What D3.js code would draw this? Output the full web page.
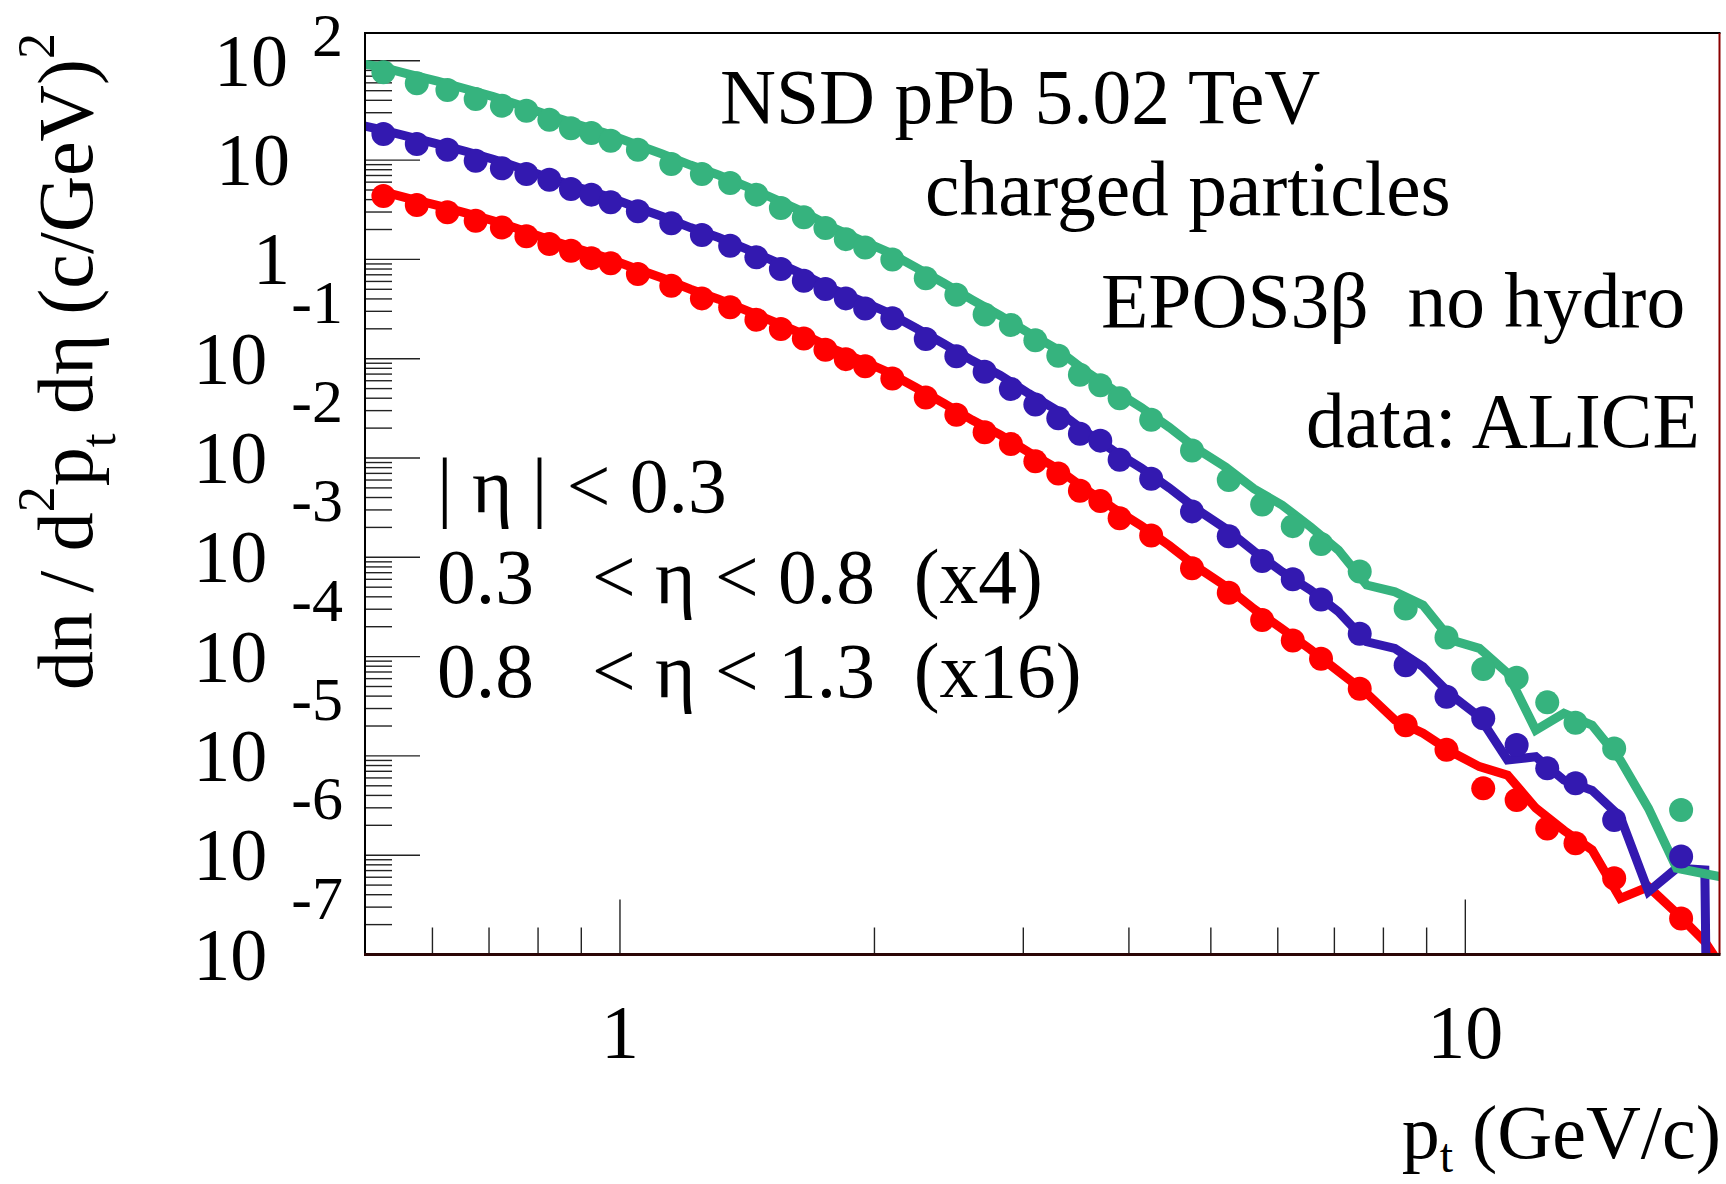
<!DOCTYPE html>
<html><head><meta charset="utf-8">
<script src="https://cdn.jsdelivr.net/npm/d3@7"></script>
<style>
html,body{margin:0;padding:0;background:#fff;}
svg{display:block;}
text{font-family:"Liberation Serif","Times New Roman",serif;fill:#000;white-space:pre;}
</style></head><body>
<svg id="chart" width="1726" height="1184"></svg>
<script>
// ---------- DATA ----------
// ALICE data: pt bin centres (GeV/c)
const ptData = [0.525,0.575,0.625,0.675,0.725,0.775,0.825,0.875,0.925,0.975,
  1.05,1.15,1.25,1.35,1.45,1.55,1.65,1.75,1.85,1.95,
  2.1,2.3,2.5,2.7,2.9,3.1,3.3,3.5,3.7,3.9,
  4.25,4.75,5.25,5.75,6.25,6.75,7.5,8.5,9.5,10.5,11.5,12.5,13.5,15,18];
// |eta| < 0.3
const dataEta03 = [4.35,3.53,2.98,2.45,2.10,1.71,1.43,1.22,1.03,0.914,
  0.713,0.543,0.405,0.330,0.247,0.199,0.160,0.123,0.099,0.084,
  0.0631,0.0406,0.0272,0.0182,0.0138,0.00925,0.00698,0.00469,0.00368,0.00247,
  0.00166,7.74e-4,4.4e-4,2.33e-4,1.45e-4,9.5e-5,4.75e-5,2.04e-5,1.15e-5,4.71e-6,3.59e-6,1.86e-6,1.32e-6,5.85e-7,2.31e-7];
// 0.3 < eta < 0.8 (x4)
const dataEta08x4 = [18.3,14.5,12.7,9.87,8.26,7.24,6.35,5.12,4.49,3.76,
  3.05,2.31,1.76,1.37,1.05,0.80,0.61,0.503,0.405,0.32,
  0.256,0.158,0.106,0.074,0.0496,0.0346,0.0251,0.01754,0.01496,0.00962,
  0.00619,0.0029,0.00163,9.2e-4,6.0e-4,3.75e-4,1.7e-4,8.2e-5,3.94e-5,2.39e-5,1.29e-5,7.5e-6,5.3e-6,2.26e-6,9.7e-7];
// 0.8 < eta < 1.3 (x16)
const dataEta13x16 = [76.6,59.3,50.8,41.2,35.3,31.4,25.5,20.9,18.7,15.7,
  12.7,9.14,7.24,5.88,4.49,3.29,2.65,2.07,1.60,1.32,
  1.00,0.645,0.44,0.279,0.219,0.153,0.107,0.0689,0.0541,0.040,
  0.0243,0.0119,0.00601,0.0034,0.00206,0.00136,7.2e-4,3.05e-4,1.56e-4,7.48e-5,6.12e-5,3.46e-5,2.16e-5,1.19e-5,2.85e-6];

// EPOS3 (no hydro) model: pt bin centres
const ptModel = [0.4818,0.5200,0.5623,0.6081,0.6579,0.7079,0.7647,0.8254,0.8913,0.9624,
  1.0391,1.1220,1.2115,1.3080,1.4125,1.5251,1.6468,1.7783,1.9201,2.0733,
  2.2387,2.4173,2.6102,2.8184,3.0433,3.2860,3.5481,3.8312,4.1369,4.4668,
  4.8232,5.2080,5.6234,6.0720,6.5563,7.0795,7.6442,8.2540,8.9125,9.6235,
  10.391,11.220,12.115,13.080,14.125,15.251,16.468,17.783,19.201,20.733];
const modelEta03 = [null,4.90,4.12,3.51,2.92,2.45,1.98,1.58,1.28,1.045,
  0.818,0.649,0.501,0.398,0.305,0.233,0.177,0.128,0.0977,0.0735,
  0.0513,0.0355,0.0241,0.0171,0.01148,0.00789,0.0049,0.00314,0.00208,0.00131,
  7.88e-4,5.1e-4,3.02e-4,1.9e-4,1.18e-4,7.1e-5,4.27e-5,2.3e-5,1.69e-5,1.1e-5,
  7.8e-6,6.4e-6,2.98e-6,1.78e-6,1.13e-6,3.68e-7,4.8e-7,2.6e-7,1.35e-7,5e-8];
const modelEta08x4 = [23.5,20.4,17.2,14.6,12.2,10.2,8.24,6.61,5.33,4.36,
  3.41,2.70,2.09,1.66,1.27,0.948,0.706,0.511,0.389,0.292,
  0.204,0.141,0.0959,0.0681,0.0447,0.0303,0.0186,0.0119,0.00792,0.00498,
  0.0030,0.00194,0.00115,7.15e-4,4.68e-4,2.83e-4,1.41e-4,1.21e-4,7.9e-5,4.1e-5,
  2.48e-5,9.1e-6,9.8e-6,5.7e-6,4.5e-6,2.44e-6,4.3e-7,7.4e-7,7.1e-7,1e-30];
const modelEta13x16 = [97,87.1,73.3,62.4,52.0,43.6,35.2,28.2,22.8,18.6,
  14.6,11.5,8.91,7.08,5.42,4.05,3.01,2.13,1.585,1.19,
  0.832,0.575,0.391,0.271,0.182,0.125,0.0759,0.0486,0.0323,0.0203,
  0.0122,0.00809,0.0049,0.00335,0.00203,0.00118,5.25e-4,4.49e-4,3.3e-4,1.47e-4,
  1.21e-4,6.8e-5,1.82e-5,2.68e-5,2.04e-5,9.1e-6,2.96e-6,7.4e-7,6.5e-7,5.75e-7];

const seriesColors = ["#ff0000", "#3319b0", "#36b37e"];
const yTickExps = [-7,-6,-5,-4,-3,-2,-1,0,1,2];
const xTickLabels = [1, 10];
const annotations = ["NSD pPb 5.02 TeV", "charged particles", "EPOS3\u03b2  no hydro", "data: ALICE"];
const legendLines = ["| \u03b7 | < 0.3", "0.3   < \u03b7 < 0.8  (x4)", "0.8   < \u03b7 < 1.3  (x16)"];

// ---------- LAYOUT ----------
const svg = d3.select("#chart");
const F = {left:365, top:33, right:1719.5, bottom:954.5};
const x = d3.scaleLog().domain([0.5, 20]).range([365.5, 1719.8]);
const y = d3.scaleLog().domain([1e-7, Math.pow(10, 2.28)]).range([954.5, 33]);

svg.append("rect").attr("width",1726).attr("height",1184).attr("fill","#fff");

svg.append("defs").append("clipPath").attr("id","frameClip")
  .append("rect").attr("x",F.left).attr("y",F.top).attr("width",F.right-F.left).attr("height",F.bottom-F.top);

// ---------- TICKS ----------
const yTicks = [];
for (let e = -7; e <= 2; e++) for (let m = 1; m <= 9; m++) {
  const v = m*Math.pow(10,e);
  if (v >= y.domain()[0] && v <= y.domain()[1]) yTicks.push({v, major: m===1});
}
svg.append("g").selectAll("line").data(yTicks).join("line")
  .attr("x1",F.left).attr("x2",d => F.left + (d.major?55:27))
  .attr("y1",d=>y(d.v)).attr("y2",d=>y(d.v))
  .attr("stroke","#222").attr("stroke-width",1.4);

const xTicks = [];
for (let e = -1; e <= 1; e++) for (let m = 1; m <= 9; m++) {
  const v = m*Math.pow(10,e);
  if (v > x.domain()[0] + 1e-9 && v < x.domain()[1] - 1e-9) xTicks.push({v, major: m===1});
}
svg.append("g").selectAll("line").data(xTicks).join("line")
  .attr("x1",d=>x(d.v)).attr("x2",d=>x(d.v))
  .attr("y1",F.bottom).attr("y2",d => F.bottom - (d.major?55:27))
  .attr("stroke","#222").attr("stroke-width",1.4);

// ---------- CURVES ----------
const series = [
  {data: dataEta03, model: modelEta03, color: seriesColors[0]},
  {data: dataEta08x4, model: modelEta08x4, color: seriesColors[1]},
  {data: dataEta13x16, model: modelEta13x16, color: seriesColors[2]}
];
const lineGen = d3.line().defined(d => d[1] != null).x(d => x(d[0])).y(d => y(d[1]));
const curves = svg.append("g").attr("clip-path","url(#frameClip)");
series.forEach(s => {
  curves.append("path")
    .attr("d", lineGen(ptModel.map((p,i) => [p, s.model[i]])))
    .attr("fill","none").attr("stroke",s.color).attr("stroke-width",9)
    .attr("stroke-linejoin","miter").attr("stroke-miterlimit",4);
});
series.forEach(s => {
  svg.append("g").selectAll("circle").data(ptData.map((p,i)=>[p,s.data[i]])).join("circle")
    .attr("cx",d=>x(d[0])).attr("cy",d=>y(d[1])).attr("r",12).attr("fill",s.color);
});

// ---------- FRAME ----------
svg.append("line").attr("x1",F.left).attr("x2",F.left).attr("y1",F.top).attr("y2",F.bottom+1.5).attr("stroke","#000").attr("stroke-width",2);
svg.append("line").attr("x1",F.left-1).attr("x2",F.right+1).attr("y1",F.top).attr("y2",F.top).attr("stroke","#000").attr("stroke-width",2);
svg.append("line").attr("x1",F.right).attr("x2",F.right).attr("y1",F.top).attr("y2",F.bottom).attr("stroke","#8b0000").attr("stroke-width",2);
svg.append("line").attr("x1",F.left-1).attr("x2",F.right+1).attr("y1",F.bottom).attr("y2",F.bottom).attr("stroke","#2a0505").attr("stroke-width",3);

// ---------- Y LABELS ----------
const yl = svg.append("g");
yTickExps.forEach(e => {
  const ty = y(Math.pow(10,e));
  if (e === 0 || e === 1) {
    yl.append("text").attr("x",290).attr("y",ty+25).attr("text-anchor","end")
      .attr("font-size",74).text(e===0 ? "1" : "10");
  } else {
    const ex = yl.append("text").attr("x",343).attr("y",Math.max(ty-36, 56))
      .attr("text-anchor","end").attr("font-size",62).text(e<0 ? "-"+(-e) : String(e));
    const w = ex.node().getComputedTextLength();
    yl.append("text").attr("x",343 - w - 24).attr("y",ty+25).attr("text-anchor","end")
      .attr("font-size",74).text("10");
  }
});

// ---------- X LABELS ----------
xTickLabels.forEach(v => {
  svg.append("text").attr("x",x(v)).attr("y",1058).attr("text-anchor","middle")
    .attr("font-size",76).text(String(v));
});

// ---------- AXIS TITLES ----------
const xt = svg.append("text").attr("x",1721).attr("y",1158).attr("text-anchor","end").attr("font-size",76);
xt.append("tspan").text("p");
xt.append("tspan").attr("font-size",48).attr("dy",14).text("t");
xt.append("tspan").attr("dy",-14).text(" (GeV/c)");

const yt = svg.append("text").attr("transform","translate(92,690) rotate(-90)").attr("font-size",78);
yt.append("tspan").text("dn / d");
yt.append("tspan").attr("font-size",52).attr("dy",-38).text("2");
yt.append("tspan").attr("dy",38).text("p");
yt.append("tspan").attr("font-size",50).attr("dy",23).text("t");
yt.append("tspan").attr("dy",-23).text(" d\u03b7 (c/GeV)");
yt.append("tspan").attr("font-size",52).attr("dy",-38).text("2");

// ---------- ANNOTATIONS ----------
const annPos = [[720,123.3],[925,215],[1101,327],[1306,447]];
annotations.forEach((t,i) => {
  svg.append("text").attr("x",annPos[i][0]).attr("y",annPos[i][1]).attr("font-size",77.5).text(t);
});
const legPos = [[437,511.7],[437,603.3],[437,696.7]];
legendLines.forEach((t,i) => {
  svg.append("text").attr("x",legPos[i][0]).attr("y",legPos[i][1]).attr("font-size",77.5).text(t);
});
</script>
</body></html>
